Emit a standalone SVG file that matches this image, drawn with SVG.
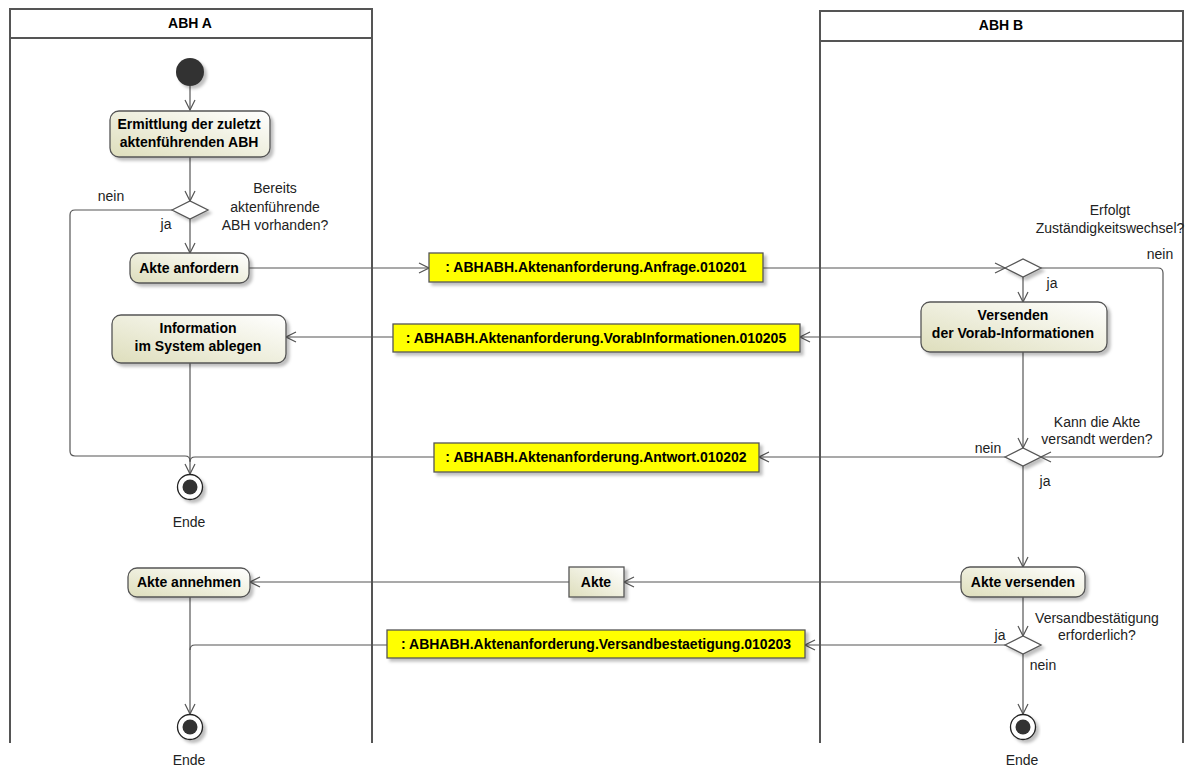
<svg xmlns="http://www.w3.org/2000/svg" width="1198" height="767" viewBox="0 0 1198 767">
  <style>
    text { font-family: "Liberation Sans", Arial, sans-serif; font-size: 14px; fill: #000; }
    .b { font-weight: bold; }
    .lbl { fill: #222; }
    .lane { fill: none; stroke: #555; stroke-width: 2; }
    .act { fill: url(#actFill); stroke: #555; stroke-width: 1.3; filter: url(#shadow); }
    .msg { fill: #FFFF00; stroke: #555; stroke-width: 1.3; filter: url(#shadow); }
    .dia { fill: #fff; stroke: #555; stroke-width: 1.3; filter: url(#shadow); }
    .edge { fill: none; stroke: #555; stroke-width: 1.2; }
    .arr { marker-end: url(#open); }
  </style>
  <defs>
    <linearGradient id="actFill" x1="0" y1="1" x2="1" y2="0">
      <stop offset="0" stop-color="#DEDEBC"/>
      <stop offset="1" stop-color="#FFFFFF"/>
    </linearGradient>
    <filter id="shadow" x="-10%" y="-20%" width="130%" height="160%">
      <feDropShadow dx="3" dy="3" stdDeviation="1.5" flood-color="#000" flood-opacity="0.25"/>
    </filter>
    <marker id="open" markerWidth="12" markerHeight="12" viewBox="0 0 12 12" refX="11" refY="6" orient="auto" markerUnits="userSpaceOnUse">
      <path d="M1,1 L11,6 L1,11" fill="none" stroke="#555" stroke-width="1.2"/>
    </marker>
  </defs>

  <!-- swimlanes -->
  <g id="lane-a">
    <path class="lane" d="M10,743 V9 H372 V743 M10,38 H372"/>
    <text class="b" x="190" y="28" text-anchor="middle">ABH A</text>
  </g>
  <g id="lane-b">
    <path class="lane" d="M820,743 V11 H1183 V743 M820,41 H1183"/>
    <text class="b" x="1001" y="30" text-anchor="middle">ABH B</text>
  </g>

  <!-- connectors -->
  <g id="connectors">
    <path class="edge arr" d="M190,86 V110"/>
    <path class="edge arr" d="M190,157 V201"/>
    <path class="edge arr" d="M190,219 V253"/>
    <path class="edge" d="M172,210 H75 Q70,210 70,215 V451 Q70,456 75,456 H185 Q190,456 190,461"/>
    <path class="edge arr" d="M190,363 V474"/>
    <path class="edge" d="M434,457 H195 Q190,457 190,462"/>
    <path class="edge arr" d="M249,268 H429"/>
    <path class="edge arr" d="M763,268 H1005"/>
    <path class="edge arr" d="M1023,277 V302"/>
    <path class="edge arr" d="M1041,268 H1158 Q1163,268 1163,273 V452 Q1163,457 1158,457 H1041"/>
    <path class="edge arr" d="M921,337 H800"/>
    <path class="edge arr" d="M393,337 H286"/>
    <path class="edge arr" d="M1023,352 V448"/>
    <path class="edge arr" d="M1005,457 H759"/>
    <path class="edge arr" d="M1023,466 V567"/>
    <path class="edge arr" d="M961,582 H624"/>
    <path class="edge arr" d="M569,582 H250"/>
    <path class="edge arr" d="M190,597 V714"/>
    <path class="edge arr" d="M1023,597 V636"/>
    <path class="edge arr" d="M1005,645 H805"/>
    <path class="edge" d="M387,645 H195 Q190,645 190,650"/>
    <path class="edge arr" d="M1023,654 V714"/>
  </g>

  <!-- lane A nodes -->
  <g id="start">
    <circle cx="190" cy="72" r="14" fill="#333" filter="url(#shadow)"/>
  </g>
  <g id="ermittlung">
    <rect class="act" x="110" y="111" width="160" height="46" rx="9"/>
    <text class="b" x="189" y="129" text-anchor="middle">Ermittlung der zuletzt</text>
    <text class="b" x="189" y="147" text-anchor="middle">aktenführenden ABH</text>
  </g>
  <g id="decision-vorhanden">
    <path class="dia" d="M172,210 L190,201 L208,210 L190,219 Z"/>
    <text class="lbl" x="275" y="193" text-anchor="middle">Bereits</text>
    <text class="lbl" x="275" y="212" text-anchor="middle">aktenführende</text>
    <text class="lbl" x="275" y="230" text-anchor="middle">ABH vorhanden?</text>
    <text class="lbl" x="111" y="201" text-anchor="middle">nein</text>
    <text class="lbl" x="166" y="229" text-anchor="middle">ja</text>
  </g>
  <g id="akte-anfordern">
    <rect class="act" x="130" y="253" width="119" height="30" rx="9"/>
    <text class="b" x="189" y="273" text-anchor="middle">Akte anfordern</text>
  </g>
  <g id="information-ablegen">
    <rect class="act" x="112" y="315" width="174" height="48" rx="9"/>
    <text class="b" x="198" y="333" text-anchor="middle">Information</text>
    <text class="b" x="198" y="351" text-anchor="middle">im System ablegen</text>
  </g>
  <g id="end-1">
    <circle cx="190" cy="487" r="12.5" fill="#fff" stroke="#222" stroke-width="1.3" filter="url(#shadow)"/>
    <circle cx="190" cy="487" r="7.5" fill="#333"/>
    <text class="lbl" x="189" y="527" text-anchor="middle">Ende</text>
  </g>
  <g id="akte-annehmen">
    <rect class="act" x="128" y="568" width="122" height="29" rx="9"/>
    <text class="b" x="189" y="587" text-anchor="middle">Akte annehmen</text>
  </g>
  <g id="end-2">
    <circle cx="190" cy="727" r="12.5" fill="#fff" stroke="#222" stroke-width="1.3" filter="url(#shadow)"/>
    <circle cx="190" cy="727" r="7.5" fill="#333"/>
    <text class="lbl" x="189" y="765" text-anchor="middle">Ende</text>
  </g>

  <!-- messages between lanes -->
  <g id="msg-anfrage">
    <rect class="msg" x="429" y="253" width="334" height="29"/>
    <text class="b" x="596" y="272" text-anchor="middle">: ABHABH.Aktenanforderung.Anfrage.010201</text>
  </g>
  <g id="msg-vorab">
    <rect class="msg" x="393" y="324" width="407" height="28"/>
    <text class="b" x="596" y="343" text-anchor="middle">: ABHABH.Aktenanforderung.VorabInformationen.010205</text>
  </g>
  <g id="msg-antwort">
    <rect class="msg" x="434" y="443" width="325" height="29"/>
    <text class="b" x="596" y="462" text-anchor="middle">: ABHABH.Aktenanforderung.Antwort.010202</text>
  </g>
  <g id="obj-akte">
    <rect class="act" x="569" y="567" width="55" height="30" rx="0"/>
    <text class="b" x="596" y="587" text-anchor="middle">Akte</text>
  </g>
  <g id="msg-versand">
    <rect class="msg" x="387" y="630" width="418" height="28"/>
    <text class="b" x="596" y="649" text-anchor="middle">: ABHABH.Aktenanforderung.Versandbestaetigung.010203</text>
  </g>

  <!-- lane B nodes -->
  <g id="decision-wechsel">
    <path class="dia" d="M1005,268 L1023,259 L1041,268 L1023,277 Z"/>
    <text class="lbl" x="1110" y="215" text-anchor="middle">Erfolgt</text>
    <text class="lbl" x="1110" y="233" text-anchor="middle">Zuständigkeitswechsel?</text>
    <text class="lbl" x="1160" y="259" text-anchor="middle">nein</text>
    <text class="lbl" x="1052" y="288" text-anchor="middle">ja</text>
  </g>
  <g id="versenden-vorab">
    <rect class="act" x="921" y="302" width="186" height="50" rx="9"/>
    <text class="b" x="1013" y="320" text-anchor="middle">Versenden</text>
    <text class="b" x="1013" y="338" text-anchor="middle">der Vorab-Informationen</text>
  </g>
  <g id="decision-versandt">
    <path class="dia" d="M1005,457 L1023,448 L1041,457 L1023,466 Z"/>
    <text class="lbl" x="1097" y="427" text-anchor="middle">Kann die Akte</text>
    <text class="lbl" x="1097" y="444" text-anchor="middle">versandt werden?</text>
    <text class="lbl" x="988" y="453" text-anchor="middle">nein</text>
    <text class="lbl" x="1045" y="486" text-anchor="middle">ja</text>
  </g>
  <g id="akte-versenden">
    <rect class="act" x="961" y="567" width="124" height="30" rx="9"/>
    <text class="b" x="1023" y="587" text-anchor="middle">Akte versenden</text>
  </g>
  <g id="decision-bestaetigung">
    <path class="dia" d="M1005,645 L1023,636 L1041,645 L1023,654 Z"/>
    <text class="lbl" x="1097" y="623" text-anchor="middle">Versandbestätigung</text>
    <text class="lbl" x="1097" y="640" text-anchor="middle">erforderlich?</text>
    <text class="lbl" x="1000" y="640" text-anchor="middle">ja</text>
    <text class="lbl" x="1043" y="670" text-anchor="middle">nein</text>
  </g>
  <g id="end-3">
    <circle cx="1023" cy="727" r="12.5" fill="#fff" stroke="#222" stroke-width="1.3" filter="url(#shadow)"/>
    <circle cx="1023" cy="727" r="7.5" fill="#333"/>
    <text class="lbl" x="1022" y="765" text-anchor="middle">Ende</text>
  </g>
</svg>
